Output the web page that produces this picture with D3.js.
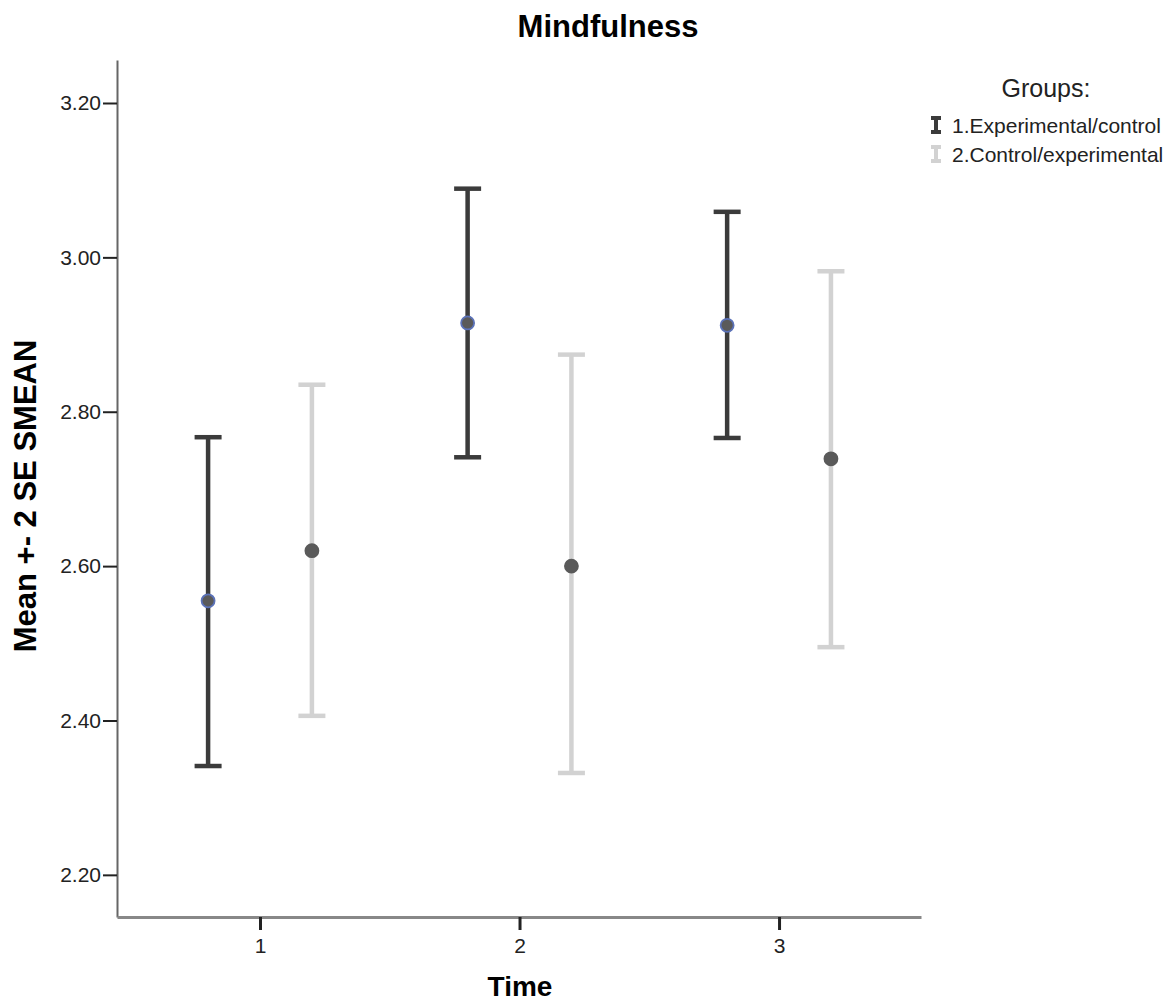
<!DOCTYPE html>
<html>
<head>
<meta charset="utf-8">
<script src="https://cdn.jsdelivr.net/npm/d3@7"></script>
<style>
  body { margin: 0; background: white; }
  text { font-family: "Liberation Sans", Arial, sans-serif; }
</style>
</head>
<body>
<script>
const w = 1174;
const h = 1003;

// data
const times = [1, 2, 3];
const groups = ['1.Experimental/control', '2.Control/experimental'];
const g1Mean = [2.555, 2.915, 2.912];
const g1Low = [2.341, 2.741, 2.766];
const g1High = [2.767, 3.089, 3.059];
const g2Mean = [2.620, 2.600, 2.739];
const g2Low = [2.406, 2.332, 2.495];
const g2High = [2.835, 2.874, 2.982];
const yTicks = [2.20, 2.40, 2.60, 2.80, 3.00, 3.20];

const barColors = ['#3b3b3b', '#d2d2d2'];
const dotStroke = ['#5b72b8', '#5a5a5a'];

const svg = d3.select('body')
  .append('svg')
  .attr('width', w)
  .attr('height', h)
  .style('display', 'block')
  .style('background-color', 'white');

const plotLeft = 117, plotRight = 921, plotTop = 60, plotBottom = 917;

const x = d3.scaleLinear().domain([0.449, 3.547]).range([plotLeft, plotRight]);
const y = d3.scaleLinear().domain([2.1454, 3.2557]).range([plotBottom, plotTop]);

// y axis
const yAxis = svg.append('g')
  .attr('transform', `translate(${plotLeft},0)`)
  .call(d3.axisLeft(y).tickValues(yTicks).tickFormat(d3.format('.2f')).tickSize(14).tickSizeOuter(0))
yAxis.select('.domain').attr('stroke', '#666').attr('stroke-width', 2)
yAxis.selectAll('.tick line').attr('stroke', '#222').attr('stroke-width', 2)
yAxis.selectAll('.tick text')
  .attr('x', -16)
  .attr('font-size', 21)
  .attr('fill', '#222')

// x axis
const xAxis = svg.append('g')
  .attr('transform', `translate(0,${plotBottom})`)
  .call(d3.axisBottom(x).tickValues(times).tickFormat(d3.format('d')).tickSize(13).tickSizeOuter(0))
xAxis.select('.domain').attr('stroke', '#888').attr('stroke-width', 3)
xAxis.selectAll('.tick line').attr('stroke', '#222').attr('stroke-width', 3)
xAxis.selectAll('.tick text')
  .attr('y', 21)
  .attr('font-size', 21)
  .attr('fill', '#222')

// error bars
const rows = [];
times.forEach(function (t, i) {
  rows.push({ g: 0, x: t - 0.2, mean: g1Mean[i], lo: g1Low[i], hi: g1High[i] });
  rows.push({ g: 1, x: t + 0.2, mean: g2Mean[i], lo: g2Low[i], hi: g2High[i] });
});

const capW = 13.5;
const bars = svg.selectAll('.bar')
  .data(rows)
  .enter()
  .append('g')
  .attr('class', 'bar')

bars.append('line')
  .attr('x1', d => x(d.x)).attr('x2', d => x(d.x))
  .attr('y1', d => y(d.lo)).attr('y2', d => y(d.hi))
  .attr('stroke', d => barColors[d.g]).attr('stroke-width', 4.5)
bars.append('line')
  .attr('x1', d => x(d.x) - capW).attr('x2', d => x(d.x) + capW)
  .attr('y1', d => y(d.hi)).attr('y2', d => y(d.hi))
  .attr('stroke', d => barColors[d.g]).attr('stroke-width', 4.5)
bars.append('line')
  .attr('x1', d => x(d.x) - capW).attr('x2', d => x(d.x) + capW)
  .attr('y1', d => y(d.lo)).attr('y2', d => y(d.lo))
  .attr('stroke', d => barColors[d.g]).attr('stroke-width', 4.5)
bars.append('circle')
  .attr('cx', d => x(d.x))
  .attr('cy', d => y(d.mean))
  .attr('r', 6.5)
  .attr('fill', '#5a5a5a')
  .attr('stroke', d => dotStroke[d.g])
  .attr('stroke-width', 1.8)

// titles
svg.append('text')
  .attr('x', 608).attr('y', 37)
  .attr('text-anchor', 'middle')
  .attr('font-size', 31).attr('font-weight', 'bold')
  .text('Mindfulness')

svg.append('text')
  .attr('transform', 'translate(36,496) rotate(-90)')
  .attr('text-anchor', 'middle')
  .attr('font-size', 31).attr('font-weight', 'bold')
  .text('Mean +- 2 SE SMEAN')

svg.append('text')
  .attr('x', 520).attr('y', 996)
  .attr('text-anchor', 'middle')
  .attr('font-size', 28).attr('font-weight', 'bold')
  .text('Time')

// legend
svg.append('text')
  .attr('x', 1046).attr('y', 97)
  .attr('text-anchor', 'middle')
  .attr('font-size', 25)
  .attr('fill', '#222')
  .text('Groups:')

const legend = svg.append('g')
  .attr('id', 'legend')
  .selectAll('g')
  .data(groups)
  .enter()
  .append('g')
  .attr('transform', (d, i) => `translate(936,${125 + i * 29})`)

legend.append('path')
  .attr('d', 'M-5,-7H5M0,-7V7M-5,7H5')
  .attr('stroke', (d, i) => barColors[i])
  .attr('stroke-width', 4)
  .attr('fill', 'none')
legend.append('text')
  .attr('x', 16).attr('y', 8)
  .attr('font-size', 21)
  .attr('fill', '#222')
  .text(d => d)
</script>
</body>
</html>
